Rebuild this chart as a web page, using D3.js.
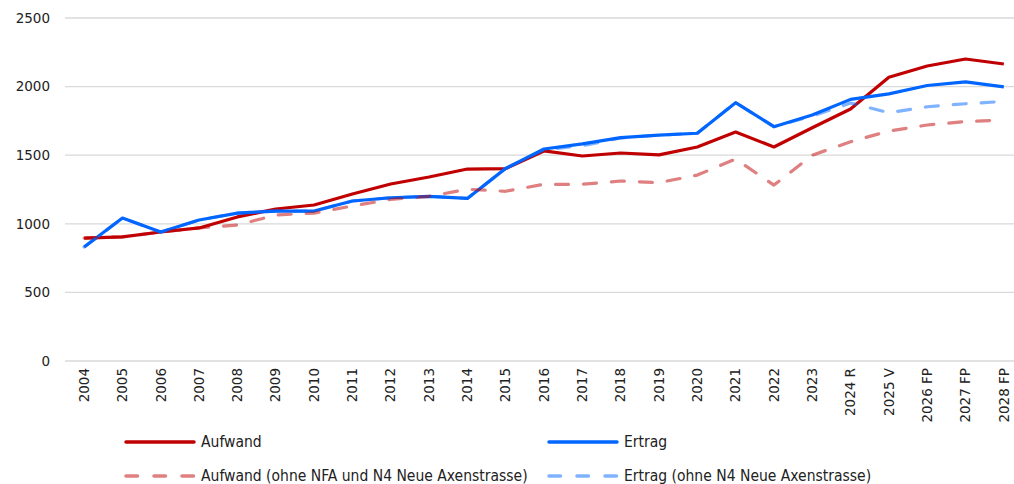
<!DOCTYPE html>
<html><head><meta charset="utf-8">
<script src="https://cdn.jsdelivr.net/npm/d3@7"></script>
<style>
body{margin:0;background:#fff;}
svg{display:block;}
</style></head>
<body><svg id="c" width="1014" height="484"></svg>
<script>
const categories = ["2004","2005","2006","2007","2008","2009","2010","2011","2012","2013","2014","2015","2016","2017","2018","2019","2020","2021","2022","2023","2024 R","2025 V","2026 FP","2027 FP","2028 FP"];
const aufwand = [896,905,940,970,1050,1108,1137,1217,1290,1341,1399,1402,1531,1494,1516,1502,1560,1669,1560,1700,1837,2068,2150,2201,2165];
const ertrag = [831,1042,940,1028,1078,1093,1093,1166,1190,1200,1185,1404,1545,1582,1628,1647,1660,1883,1708,1793,1907,1947,2008,2034,1998];
const aufwandOhne = [896,905,940,970,991,1064,1078,1130,1178,1200,1252,1237,1288,1288,1312,1300,1355,1472,1282,1500,1598,1676,1720,1745,1757];
const ertragOhne = [831,1042,940,1028,1078,1093,1093,1166,1190,1200,1185,1404,1540,1570,1625,1647,1660,1883,1708,1785,1880,1810,1853,1875,1892];
const yTicks = [0,500,1000,1500,2000,2500];
const seriesNames = ["Aufwand","Ertrag","Aufwand (ohne NFA und N4 Neue Axenstrasse)","Ertrag (ohne N4 Neue Axenstrasse)"];

const svg = d3.select("#c");
const mLeft = 65, mRight = 1023, mTop = 18, mBottom = 361;
const x = d3.scaleBand().domain(categories).range([mLeft, mRight]);
const y = d3.scaleLinear().domain([0,2500]).range([mBottom, mTop]);
const tickFont = "'DejaVu Sans', sans-serif";

// gridlines
svg.append("g").selectAll("line").data(yTicks).join("line")
  .attr("x1", mLeft).attr("x2", mRight)
  .attr("y1", d=>y(d)).attr("y2", d=>y(d))
  .attr("stroke", "#d9d9d9").attr("stroke-width", 1.3);

// y axis
const yAxis = svg.append("g").attr("transform", `translate(${mLeft},0)`)
  .call(d3.axisLeft(y).tickValues(yTicks).tickFormat(d3.format("d")).tickSize(0).tickPadding(15));
yAxis.select(".domain").remove();
yAxis.attr("font-family", tickFont).attr("font-size", 13.5);
yAxis.selectAll("text").attr("fill", "#222");

// x axis
const xAxis = svg.append("g").attr("transform", `translate(0,${mBottom})`)
  .call(d3.axisBottom(x).tickSize(0));
xAxis.select(".domain").remove();
xAxis.attr("font-family", tickFont).attr("font-size", 13.5);
xAxis.selectAll("text")
  .attr("fill", "#222")
  .attr("transform", "rotate(-90)")
  .attr("text-anchor", "end").attr("x", -7).attr("y", 0).attr("dy", "0.35em");

const line = d3.line().x((d,i)=>x(categories[i]) + x.bandwidth()/2).y(d=>y(d));

const styles = [
  {data: aufwand, color: "#C00000", op: 1, dash: null},
  {data: ertrag, color: "#0066FF", op: 1, dash: null},
  {data: aufwandOhne, color: "#C00000", op: 0.5, dash: "13,15"},
  {data: ertragOhne, color: "#0066FF", op: 0.5, dash: "13,15"}
];
styles.forEach(s => {
  svg.append("path").datum(s.data)
    .attr("d", line).attr("fill", "none")
    .attr("stroke", s.color).attr("stroke-opacity", s.op)
    .attr("stroke-width", 3.2).attr("stroke-linejoin", "round")
    .attr("stroke-linecap", s.dash ? "round" : "butt")
    .attr("stroke-dasharray", s.dash);
});

// legend
const legPos = [[126,442],[549,442],[126,476],[549,476]];
const legFont = "'DejaVu Sans Condensed', 'DejaVu Sans', sans-serif";
styles.forEach((s,i) => {
  const [lx, ly] = legPos[i];
  svg.append("line").attr("x1", lx).attr("x2", lx+68).attr("y1", ly).attr("y2", ly)
    .attr("stroke", s.color).attr("stroke-opacity", s.op).attr("stroke-width", 3.5)
    .attr("stroke-linecap", "round")
    .attr("stroke-dasharray", s.dash ? "11.5,16.5" : null);
  svg.append("text").attr("x", lx+75).attr("y", ly).attr("dy","0.35em")
    .attr("font-family", legFont).attr("font-size", 15.5).attr("fill", "#222")
    .text(seriesNames[i]);
});
</script></body></html>
